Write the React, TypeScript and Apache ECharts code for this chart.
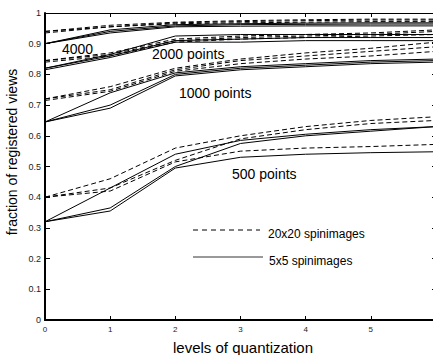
import React, { useEffect, useRef } from "react";
import * as echarts from "echarts";

const levels = [0, 1, 2, 3, 4, 5, 6];
const yTicks = [0, 0.1, 0.2, 0.3, 0.4, 0.5, 0.6, 0.7, 0.8, 0.9, 1];

// 20x20 spin images (dashed)
const dashed4000 = [
  [0.94, 0.96, 0.97, 0.975, 0.978, 0.98, 0.98],
  [0.94, 0.955, 0.968, 0.972, 0.975, 0.977, 0.977],
  [0.935, 0.955, 0.965, 0.968, 0.97, 0.972, 0.972],
];
const dashed2000 = [
  [0.845, 0.87, 0.915, 0.925, 0.93, 0.935, 0.945],
  [0.845, 0.865, 0.91, 0.92, 0.925, 0.93, 0.94],
  [0.84, 0.86, 0.905, 0.915, 0.92, 0.925, 0.93],
];
const dashed1000 = [
  [0.72, 0.76, 0.82, 0.85, 0.87, 0.885, 0.905],
  [0.72, 0.75, 0.815, 0.845, 0.86, 0.875, 0.89],
  [0.715, 0.745, 0.81, 0.835, 0.85, 0.86, 0.875],
];
const dashed500 = [
  [0.4, 0.46, 0.56, 0.6, 0.63, 0.65, 0.662],
  [0.4, 0.43, 0.52, 0.59, 0.62, 0.64, 0.65],
  [0.4, 0.42, 0.515, 0.55, 0.56, 0.565, 0.572],
];

// 5x5 spin images (solid)
const solid4000 = [
  [0.9, 0.945, 0.962, 0.965, 0.967, 0.968, 0.968],
  [0.9, 0.94, 0.958, 0.962, 0.963, 0.964, 0.964],
  [0.9, 0.935, 0.955, 0.957, 0.958, 0.958, 0.958],
];
const solid2000 = [
  [0.82, 0.865, 0.925, 0.93, 0.93, 0.93, 0.93],
  [0.82, 0.86, 0.91, 0.915, 0.92, 0.92, 0.92],
  [0.815, 0.855, 0.905, 0.905, 0.91, 0.91, 0.91],
];
const solid1000 = [
  [0.645, 0.74, 0.805, 0.825, 0.835, 0.845, 0.85],
  [0.645, 0.7, 0.8, 0.82, 0.83, 0.84, 0.845],
  [0.645, 0.69, 0.795, 0.815, 0.825, 0.835, 0.84],
];
const solid500 = [
  [0.32, 0.43, 0.54, 0.585, 0.605, 0.62, 0.63],
  [0.32, 0.365, 0.5, 0.575, 0.6, 0.615, 0.63],
  [0.32, 0.355, 0.495, 0.53, 0.54, 0.545, 0.548],
];

const groupLabels = ["4000", "2000 points", "1000 points", "500 points"];
const legendLabels = ["20x20 spinimages", "5x5 spinimages"];
const xName = "levels of quantization";
const yName = "fraction of registered views";

const FONT = "'Liberation Sans', Arial, Helvetica, sans-serif";

export default function App() {
  const ref = useRef<HTMLDivElement>(null);
  useEffect(() => {
    if (!ref.current) return;
    const chart = echarts.init(ref.current, undefined, { renderer: "svg" });

    const mk = (vals: number[], dashed: boolean) => ({
      type: "line",
      data: levels.map((x, i) => [x, vals[i]]),
      symbol: "none",
      silent: true,
      lineStyle: {
        color: "#000",
        width: 1,
        type: dashed ? [5, 3] : "solid",
      },
    });

    const series: any[] = [];
    [dashed4000, dashed2000, dashed1000, dashed500].forEach((g) =>
      g.forEach((v) => series.push(mk(v, true)))
    );
    [solid4000, solid2000, solid1000, solid500].forEach((g) =>
      g.forEach((v) => series.push(mk(v, false)))
    );

    const txt = (x: number, y: number, text: string, size: number, extra: any = {}) => ({
      type: "text",
      x,
      y,
      silent: true,
      ...extra,
      style: {
        text,
        fill: "#000",
        font: `${size}px ${FONT}`,
        verticalAlign: "middle",
        align: "left",
        ...(extra.style || {}),
      },
    });

    chart.setOption({
      animation: false,
      backgroundColor: "#fff",
      grid: {
        left: 45,
        top: 13,
        width: 391,
        height: 307,
        containLabel: false,
        outerBoundsMode: "none",
      },
      xAxis: [
        {
          type: "value",
          min: 0,
          max: 6,
          interval: 1,
          position: "bottom",
          axisLine: { show: true, onZero: false, lineStyle: { color: "#000", width: 2 } },
          axisTick: { show: true, inside: true, length: 4, lineStyle: { color: "#000" } },
          axisLabel: {
            fontSize: 8,
            color: "#222",
            margin: 5,
            fontFamily: FONT,
            formatter: (v: number) => String(levels[Math.round(v)]),
          },
          splitLine: { show: false },
        },
        {
          type: "value",
          min: 0,
          max: 6,
          interval: 1,
          position: "top",
          axisLine: { show: true, onZero: false, lineStyle: { color: "#000", width: 1 } },
          axisTick: { show: true, inside: true, length: 4, lineStyle: { color: "#000" } },
          axisLabel: { show: false },
          splitLine: { show: false },
        },
      ],
      yAxis: [
        {
          type: "value",
          min: 0,
          max: 1,
          interval: 0.1,
          position: "left",
          axisLine: { show: true, onZero: false, lineStyle: { color: "#000", width: 2 } },
          axisTick: { show: true, inside: true, length: 5, lineStyle: { color: "#000" } },
          axisLabel: {
            fontSize: 9,
            color: "#222",
            margin: 4,
            fontFamily: FONT,
            formatter: (v: number) => {
              const t = yTicks.find((k) => Math.abs(k - v) < 1e-6);
              return t === undefined ? "" : String(t);
            },
          },
          splitLine: { show: false },
        },
        {
          type: "value",
          min: 0,
          max: 1,
          interval: 0.1,
          position: "right",
          axisLine: { show: true, onZero: false, lineStyle: { color: "#000", width: 1 } },
          axisTick: { show: true, inside: true, length: 4, lineStyle: { color: "#000" } },
          axisLabel: { show: false },
          splitLine: { show: false },
        },
      ],
      series,
      graphic: [
        txt(62, 49, groupLabels[0], 14),
        txt(152, 54, groupLabels[1], 14),
        txt(179, 93, groupLabels[2], 14),
        txt(232, 174, groupLabels[3], 14),
        {
          type: "line",
          silent: true,
          shape: { x1: 193, y1: 230, x2: 260, y2: 230 },
          style: { stroke: "#000", lineWidth: 1, lineDash: [5, 4] },
        },
        {
          type: "line",
          silent: true,
          shape: { x1: 193, y1: 257, x2: 263, y2: 257 },
          style: { stroke: "#777", lineWidth: 1.3 },
        },
        txt(268, 234, legendLabels[0], 12),
        txt(269, 261, legendLabels[1], 12),
        txt(243, 347, xName, 15, { style: { align: "center" } }),
        txt(12, 152, yName, 14, { rotation: Math.PI / 2, style: { align: "center" } }),
      ],
    });
    return () => chart.dispose();
  }, []);
  return (
    <div
      ref={ref}
      style={{ position: "fixed", left: 0, top: 0, width: 433, height: 355, overflow: "hidden" }}
    />
  );
}
